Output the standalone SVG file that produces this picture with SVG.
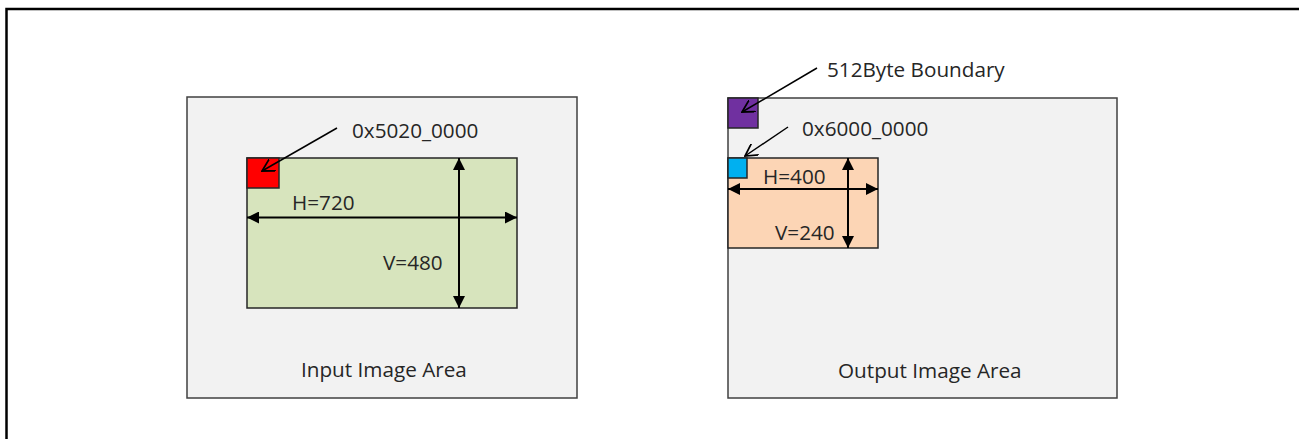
<svg xmlns="http://www.w3.org/2000/svg" width="1299" height="439" viewBox="0 0 1299 439">
<style>
.panel{fill:#f2f2f2;stroke:#404040;stroke-width:1.5}
.box{stroke:#262626;stroke-width:1.5}
.t{font-family:"Open Sans","Liberation Sans",sans-serif;font-size:20.7px;fill:#262626}
.dim{stroke:#000;stroke-width:2;fill:none;marker-start:url(#tri);marker-end:url(#tri)}
.lead{stroke:#000;stroke-width:1.5;fill:none;marker-end:url(#open)}
</style>
<defs>
<marker id="tri" viewBox="0 0 10 10" refX="10" refY="5" markerWidth="6" markerHeight="6" markerUnits="strokeWidth" orient="auto-start-reverse">
<path d="M0,0 L10,5 L0,10 z" fill="#000"/>
</marker>
<marker id="open" viewBox="0 0 10 10" refX="9" refY="5" markerWidth="9" markerHeight="9" markerUnits="strokeWidth" orient="auto">
<path d="M0,0 L9,5 L0,10" fill="none" stroke="#000" stroke-width="1.3"/>
</marker>
</defs>
<rect x="0" y="0" width="1299" height="439" fill="#fff"/>
<path id="frame" d="M1299,9 H6.5 V439" fill="none" stroke="#000" stroke-width="2.5"/>
<g id="input-area">
<rect class="panel" x="187" y="97" width="390" height="301"/>
<text class="t" x="301" y="377">Input Image Area</text>
</g>
<g id="input-image">
<rect class="box" x="247" y="158" width="270" height="150" fill="#d7e4bd"/>
<text class="t" x="292" y="210">H=720</text>
<text class="t" x="383" y="270">V=480</text>
</g>
<g id="input-start">
<rect class="box" x="247" y="158" width="32" height="30" fill="#ff0000"/>
<text class="t" x="352" y="138">0x5020_0000</text>
</g>
<g id="output-area">
<rect class="panel" x="728" y="98" width="389" height="300"/>
<text class="t" x="838" y="378">Output Image Area</text>
</g>
<g id="boundary">
<rect class="box" x="728" y="98" width="30" height="30" fill="#7030a0"/>
<text class="t" x="827" y="77">512Byte Boundary</text>
</g>
<g id="output-image">
<rect class="box" x="728" y="158" width="150" height="90" fill="#fcd5b5"/>
<text class="t" x="763" y="184">H=400</text>
<text class="t" x="775" y="240">V=240</text>
</g>
<g id="output-start">
<rect class="box" x="728" y="158" width="19" height="20" fill="#00b0f0"/>
<text class="t" x="802" y="136">0x6000_0000</text>
</g>
<g id="connectors">
<line class="dim" x1="247" y1="217.5" x2="517" y2="217.5"/>
<line class="dim" x1="459" y1="158" x2="459" y2="308"/>
<line class="dim" x1="728" y1="189" x2="878" y2="189"/>
<line class="dim" x1="848" y1="158" x2="848" y2="248"/>
<line class="lead" x1="337" y1="128" x2="262" y2="171"/>
<line class="lead" x1="817" y1="68" x2="742" y2="112"/>
<line class="lead" x1="788" y1="127" x2="745" y2="156"/>
</g>
</svg>
